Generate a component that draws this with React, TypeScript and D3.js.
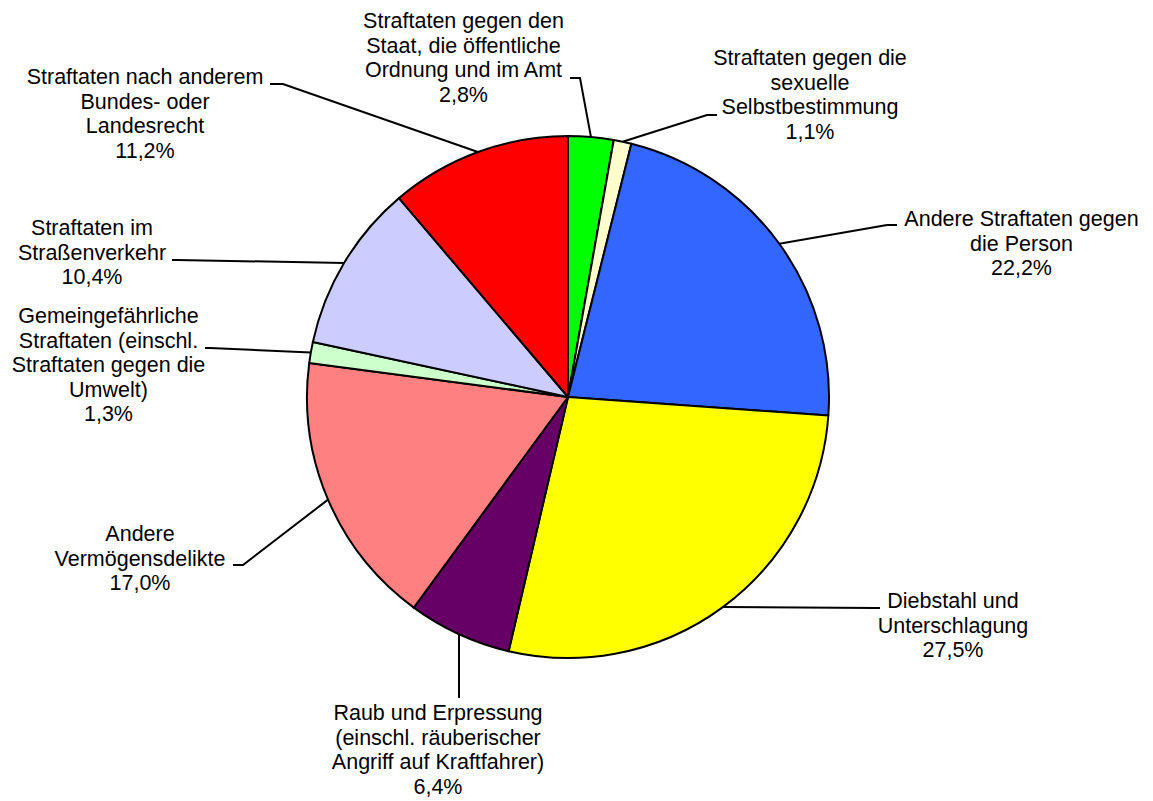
import React from "react";
import * as d3 from "d3";

const categories: string[][] = [
  ["Straftaten gegen den", "Staat, die öffentliche", "Ordnung und im Amt"],
  ["Straftaten gegen die", "sexuelle", "Selbstbestimmung"],
  ["Andere Straftaten gegen", "die Person"],
  ["Diebstahl und", "Unterschlagung"],
  ["Raub und Erpressung", "(einschl. räuberischer", "Angriff auf Kraftfahrer)"],
  ["Andere", "Vermögensdelikte"],
  ["Gemeingefährliche", "Straftaten (einschl.", "Straftaten gegen die", "Umwelt)"],
  ["Straftaten im", "Straßenverkehr"],
  ["Straftaten nach anderem", "Bundes- oder", "Landesrecht"],
];
const values: number[] = [2.8, 1.1, 22.2, 27.5, 6.4, 17.0, 1.3, 10.4, 11.2];
const valueLabels: string[] = ["2,8%", "1,1%", "22,2%", "27,5%", "6,4%", "17,0%", "1,3%", "10,4%", "11,2%"];
const colors: string[] = ["#00FF00", "#FFFFCC", "#3366FF", "#FFFF00", "#660066", "#FF8080", "#CCFFCC", "#CCCCFF", "#FF0000"];

// layout: label centre x, first baseline y, leader elbow and end points
const layout = [
  { cx: 463.5, y: 28, elbow: [580, 78], end: [570, 78] },
  { cx: 810, y: 65, elbow: [707, 115], end: [717, 115] },
  { cx: 1021.5, y: 226, elbow: [887, 225], end: [897, 225] },
  { cx: 953, y: 608, elbow: [875, 608], end: [880, 608] },
  { cx: 438, y: 720, elbow: [459, 695], end: [459, 698] },
  { cx: 140, y: 541, elbow: [243, 565], end: [233, 565] },
  { cx: 108.5, y: 323, elbow: [210, 348], end: [205, 348] },
  { cx: 92, y: 235, elbow: [177, 260], end: [172, 260] },
  { cx: 145, y: 84, elbow: [283, 84], end: [270, 84] },
];

const W = 1153;
const H = 801;
const CX = 568;
const CY = 397;
const R = 261;
const LH = 24.5;

export default function App() {
  const pie = d3.pie<number>().value((d) => d).sort(null);
  const arcs = pie(values);
  const arc = d3.arc<d3.PieArcDatum<number>>().innerRadius(0).outerRadius(R);
  const edge = d3.arc<d3.PieArcDatum<number>>().innerRadius(R).outerRadius(R);

  return (
    <svg width={W} height={H} style={{ position: "absolute", left: 0, top: 0 }}>
      <rect width={W} height={H} fill="#fff" />
      <g transform={`translate(${CX},${CY})`}>
        {arcs.map((a, i) => (
          <path key={i} d={arc(a) || ""} fill={colors[i]} stroke="#000" strokeWidth={2} strokeLinejoin="round" />
        ))}
      </g>
      {arcs.map((a, i) => {
        const [ex, ey] = edge.centroid(a);
        const L = layout[i];
        const pts = [
          [CX + ex, CY + ey],
          L.elbow,
          L.end,
        ];
        const line = d3.line()(pts as [number, number][]) || "";
        const lines = [...categories[i], valueLabels[i]];
        return (
          <g key={i}>
            <path d={line} fill="none" stroke="#000" strokeWidth={2} />
            <text
              x={L.cx}
              y={L.y}
              textAnchor="middle"
              fontFamily="'Liberation Sans', Arial, sans-serif"
              fontSize={21.5}
              fill="#000"
            >
              {lines.map((t, j) => (
                <tspan key={j} x={L.cx} y={L.y + j * LH}>
                  {t}
                </tspan>
              ))}
            </text>
          </g>
        );
      })}
    </svg>
  );
}
